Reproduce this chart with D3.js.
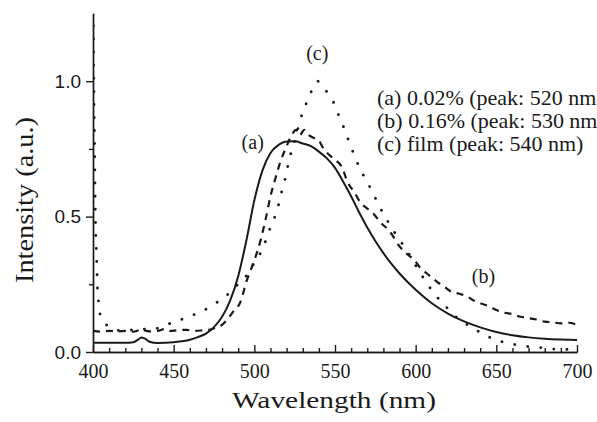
<!DOCTYPE html>
<html>
<head>
<meta charset="utf-8">
<script src="https://cdn.jsdelivr.net/npm/d3@7"></script>
<style>
  body { margin: 0; background: #fff; }
  svg { display: block; }
</style>
</head>
<body>
<svg width="597" height="422"></svg>
<script>
// (a) 0.02 %, solid line
var wlA = [400, 410, 420, 425, 428, 430, 432, 435, 440, 450, 460, 465, 470, 475, 480, 485, 490, 495, 500, 505, 510, 515, 520, 525, 530, 535, 540, 545, 550, 555, 560, 565, 570, 575, 580, 585, 590, 600, 610, 620, 630, 640, 650, 660, 670, 680, 690, 700];
var intA = [0.034, 0.034, 0.034, 0.036, 0.046, 0.054, 0.05, 0.038, 0.033, 0.036, 0.045, 0.055, 0.068, 0.092, 0.13, 0.19, 0.28, 0.41, 0.56, 0.67, 0.735, 0.765, 0.777, 0.778, 0.77, 0.76, 0.74, 0.715, 0.68, 0.63, 0.575, 0.515, 0.46, 0.41, 0.365, 0.325, 0.29, 0.23, 0.18, 0.142, 0.113, 0.091, 0.074, 0.062, 0.054, 0.049, 0.046, 0.044];

// (b) 0.16 %, dashed line
var wlB = [400, 405, 410, 415, 420, 425, 428, 430, 432, 435, 440, 445, 448, 452, 458, 462, 468, 472, 476, 480, 483, 487, 491, 495.5, 499.5, 504, 507, 510, 513, 516, 520, 523, 526, 528, 531, 534, 537, 540, 543, 546, 550, 554, 558, 562, 566, 570, 574, 578, 584, 590, 595, 599, 603, 607, 613, 618, 622, 627, 632, 636, 640, 645, 650, 655, 660, 665, 670, 675, 680, 685, 690, 695, 700];
var intB = [0.078, 0.075, 0.078, 0.076, 0.078, 0.075, 0.08, 0.085, 0.08, 0.076, 0.078, 0.085, 0.078, 0.08, 0.082, 0.078, 0.08, 0.082, 0.09, 0.1, 0.118, 0.15, 0.18, 0.267, 0.33, 0.415, 0.49, 0.575, 0.64, 0.7, 0.76, 0.8, 0.82, 0.8, 0.82, 0.8, 0.79, 0.78, 0.75, 0.73, 0.71, 0.686, 0.625, 0.59, 0.55, 0.53, 0.51, 0.48, 0.445, 0.39, 0.36, 0.34, 0.31, 0.29, 0.26, 0.24, 0.223, 0.215, 0.205, 0.19, 0.18, 0.17, 0.155, 0.145, 0.14, 0.13, 0.125, 0.12, 0.112, 0.11, 0.106, 0.108, 0.1];

// (c) film, dotted line
var wlC = [400, 400.5, 401, 401.5, 402.3, 402.7, 403.3, 404, 406, 408.5, 412, 415, 420, 425, 430, 435, 440, 445, 451, 459, 467.5, 476, 483, 489, 495.5, 500, 505, 508, 511, 514, 516, 519, 522, 525.5, 528.6, 531.7, 535, 539.3, 542, 545, 549, 552, 555.5, 558.6, 561.7, 564.8, 569, 573, 577, 586.5, 595, 602, 611, 620, 627, 634, 641, 650, 658, 667, 676, 685, 693, 700];
var intC = [1.35, 1.0, 0.75, 0.5, 0.34, 0.25, 0.195, 0.15, 0.12, 0.1, 0.085, 0.08, 0.08, 0.082, 0.085, 0.082, 0.088, 0.1, 0.112, 0.13, 0.15, 0.18, 0.21, 0.245, 0.285, 0.33, 0.38, 0.427, 0.477, 0.52, 0.57, 0.637, 0.72, 0.79, 0.86, 0.91, 0.958, 1.0, 0.985, 0.96, 0.923, 0.878, 0.828, 0.779, 0.73, 0.686, 0.637, 0.594, 0.544, 0.446, 0.37, 0.3, 0.22, 0.16, 0.12, 0.094, 0.069, 0.044, 0.032, 0.022, 0.017, 0.011, 0.01, 0.008];

var xMajor = [400, 450, 500, 550, 600, 650, 700];
var yMajor = [0.0, 0.5, 1.0];
var yMinor = [0.25, 0.75];

var legendLines = ["(a) 0.02% (peak: 520 nm)", "(b) 0.16% (peak: 530 nm)", "(c) film (peak: 540 nm)"];

var svg = d3.select("svg");
var ink = "#1a1a1a";
var serif = "'Liberation Serif', 'Times New Roman', serif";
var sans = "'Liberation Sans', Arial, sans-serif";

var x = d3.scaleLinear().domain([400, 700]).range([93, 577]);
var y = d3.scaleLinear().domain([0, 1.25]).range([352, 13.5]);

svg.append("clipPath").attr("id", "plot")
    .append("rect").attr("x", 93).attr("y", 13.5).attr("width", 490).attr("height", 340);

// x axis, ticks pointing up
var xMinor = d3.range(400, 701, 10).filter(function (d) { return d % 50 != 0; });
svg.append("g").attr("transform", "translate(0,352)")
    .call(d3.axisBottom(x).tickValues(xMinor).tickSize(-4).tickSizeOuter(0).tickFormat(""));
svg.append("g").attr("class", "xax").attr("transform", "translate(0,352)")
    .call(d3.axisBottom(x).tickValues(xMajor).tickSize(-7).tickSizeOuter(0).tickPadding(12).tickFormat(d3.format("d")));

// y axis, ticks pointing left
svg.append("g").attr("transform", "translate(93,0)")
    .call(d3.axisLeft(y).tickValues(yMinor).tickSize(4).tickSizeOuter(0).tickFormat(""));
svg.append("g").attr("class", "yax").attr("transform", "translate(93,0)")
    .call(d3.axisLeft(y).tickValues(yMajor).tickSize(7).tickSizeOuter(0).tickPadding(5).tickFormat(d3.format(".1f")));

svg.selectAll(".domain, .tick line").attr("stroke", ink).attr("stroke-width", 1.4);
svg.selectAll(".xax text").style("font-family", serif).style("font-size", "20px").attr("fill", ink);
svg.selectAll(".yax text").style("font-family", sans).style("font-size", "19px").attr("fill", ink);

// curves
var line = d3.line()
    .x(function (d) { return x(d[0]); })
    .y(function (d) { return y(d[1]); })
    .curve(d3.curveMonotoneX);

var g = svg.append("g").attr("clip-path", "url(#plot)");

g.append("path").datum(d3.zip(wlA, intA))
    .attr("d", line).attr("fill", "none").attr("stroke", ink).attr("stroke-width", 2);

g.append("path").datum(d3.zip(wlB, intB))
    .attr("d", line).attr("fill", "none").attr("stroke", ink).attr("stroke-width", 2.2)
    .attr("stroke-dasharray", "7,6");

g.append("path").datum(d3.zip(wlC, intC))
    .attr("d", line).attr("fill", "none").attr("stroke", ink).attr("stroke-width", 2.8)
    .attr("stroke-linecap", "round").attr("stroke-dasharray", "0.1,13");

// axis titles
svg.append("text")
    .attr("x", 334).attr("y", 408)
    .attr("text-anchor", "middle")
    .style("font-family", serif).style("font-size", "24px")
    .attr("textLength", 204).attr("lengthAdjust", "spacingAndGlyphs")
    .attr("fill", ink)
    .text("Wavelength (nm)");

svg.append("text")
    .attr("transform", "translate(33,200) rotate(-90)")
    .attr("text-anchor", "middle")
    .style("font-family", serif).style("font-size", "25px")
    .attr("textLength", 166).attr("lengthAdjust", "spacingAndGlyphs")
    .attr("fill", ink)
    .text("Intensity (a.u.)");

// legend text, slightly wide like the source
var leg = svg.append("g").attr("transform", "translate(377,0) scale(1.1,1)");
leg.selectAll("text").data(legendLines).enter().append("text")
    .attr("x", 0)
    .attr("y", function (d, i) { return 105 + i * 23; })
    .style("font-family", serif).style("font-size", "20px")
    .attr("fill", ink)
    .text(function (d) { return d; });

// curve labels
var tags = [["(c)", 539, 1.08], ["(a)", 499, 0.75], ["(b)", 642, 0.255]];
svg.selectAll(".tag").data(tags).enter().append("text")
    .attr("class", "tag")
    .attr("x", function (d) { return x(d[1]); })
    .attr("y", function (d) { return y(d[2]); })
    .attr("text-anchor", "middle")
    .style("font-family", serif).style("font-size", "20px")
    .attr("fill", ink)
    .text(function (d) { return d[0]; });
</script>
</body>
</html>
